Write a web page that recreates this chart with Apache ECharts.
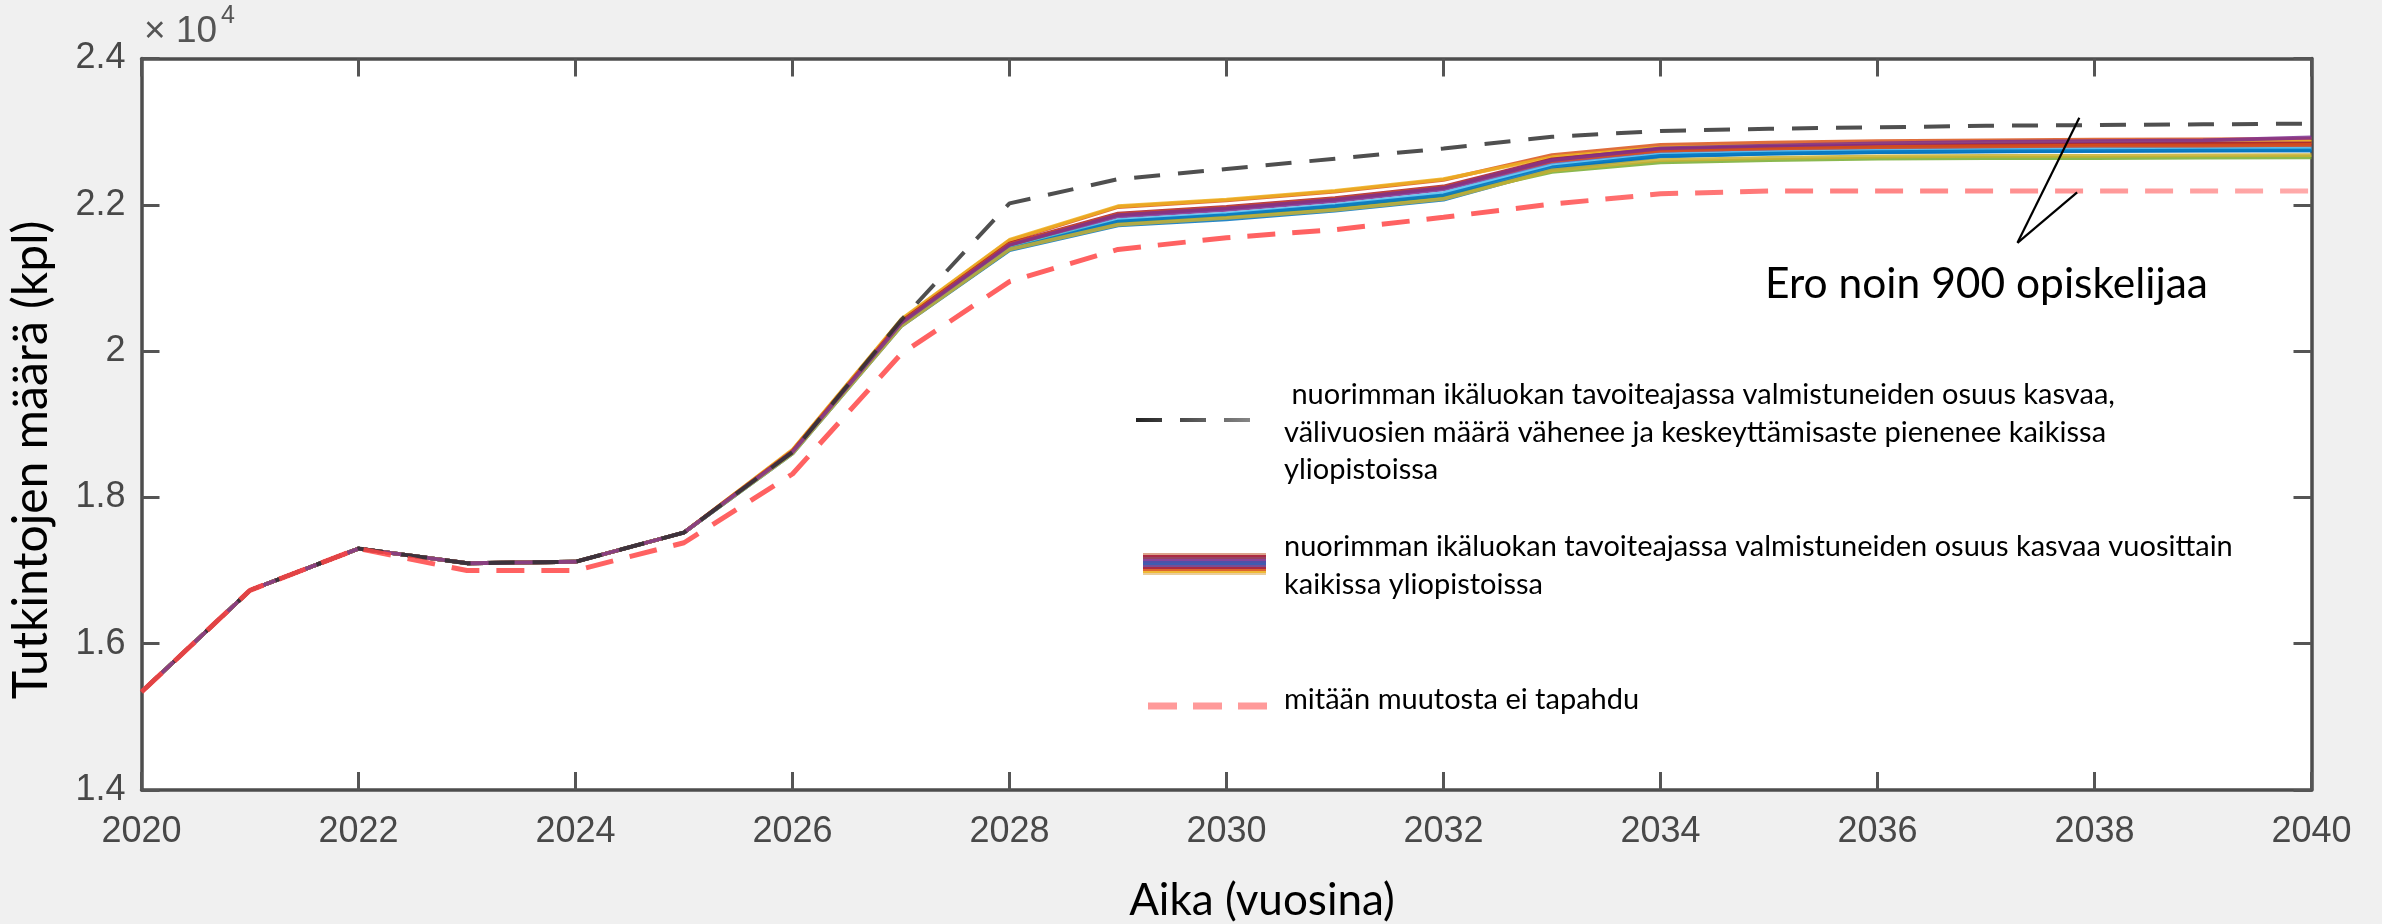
<!DOCTYPE html>
<html>
<head>
<meta charset="utf-8">
<script src="https://cdn.jsdelivr.net/npm/echarts@6/dist/echarts.min.js"></script>
<style>
  html, body { margin: 0; padding: 0; background: #f0f0f0; }
  #chart { width: 2382px; height: 924px; }
</style>
</head>
<body>
<div id="chart"></div>
<script>
// Years on the horizontal axis
const years = [2020, 2021, 2022, 2023, 2024, 2025, 2026, 2027, 2028, 2029, 2030,
               2031, 2032, 2033, 2034, 2035, 2036, 2037, 2038, 2039, 2040];

// Observed degrees 2020–2025, shared by every university-level projection
const sharedHistory = [15340, 16730, 17300, 17100, 17120, 17520];

// Projections 2026–2040: share of the youngest age group graduating on time grows yearly
const bandProjections = [
  [18600, 20340, 21380, 21720, 21800, 21920, 22070, 22480, 22660, 22700, 22720, 22730, 22740, 22745, 22750],
  [18640, 20420, 21510, 21970, 22060, 22180, 22340, 22680, 22820, 22850, 22870, 22880, 22890, 22895, 22900],
  [18650, 20430, 21520, 21980, 22070, 22190, 22350, 22650, 22780, 22810, 22830, 22840, 22850, 22850, 22860],
  [18620, 20370, 21430, 21840, 21930, 22050, 22210, 22580, 22730, 22760, 22780, 22790, 22800, 22805, 22810],
  [18610, 20360, 21420, 21770, 21850, 21970, 22120, 22450, 22580, 22610, 22630, 22640, 22640, 22645, 22650],
  [18600, 20350, 21400, 21790, 21880, 22000, 22160, 22540, 22690, 22720, 22740, 22750, 22760, 22760, 22770],
  [18630, 20400, 21470, 21880, 21970, 22090, 22250, 22620, 22760, 22790, 22810, 22820, 22830, 22835, 22840],
  [18610, 20350, 21390, 21770, 21860, 21980, 22130, 22510, 22670, 22700, 22720, 22730, 22735, 22740, 22740],
  [18630, 20390, 21460, 21870, 21960, 22080, 22240, 22600, 22740, 22770, 22790, 22800, 22810, 22810, 22820],
  [18600, 20340, 21390, 21730, 21820, 21930, 22080, 22470, 22610, 22640, 22660, 22670, 22670, 22675, 22680],
  [18620, 20380, 21450, 21860, 21950, 22070, 22230, 22610, 22770, 22810, 22840, 22860, 22870, 22880, 22920]
];
const bandColors = ['#0072BD', '#D95319', '#EDB120', '#7E2F8E', '#77AC30', '#4DBEEE',
                    '#A2142F', '#0072BD', '#D95319', '#C9B030', '#7E2F8E'];

// Scenario: on-time share grows, fewer gap years and lower drop-out rate
const targetScenario = [15340, 16730, 17300, 17100, 17120, 17520, 18620, 20420, 22020, 22350, 22490,
                        22630, 22770, 22930, 23010, 23040, 23060, 23080, 23090, 23100, 23110];

// Scenario: nothing changes
const baselineScenario = [15340, 16730, 17300, 17000, 17000, 17380, 18320, 19960, 20950, 21390, 21550,
                          21660, 21830, 22010, 22150, 22190, 22190, 22190, 22190, 22190, 22190];

// Pointer lines for the gap annotation (year, degrees)
const eroApex = [2037.29, 21480];
const eroUpper = [2037.86, 23190];
const eroLower = [2037.84, 22170];

const xRange = [2020, 2040, 2];
const yRange = [14000, 24000, 2000];

const nameTarget = ' nuorimman ikäluokan tavoiteajassa valmistuneiden osuus kasvaa,\nvälivuosien määrä vähenee ja keskeyttämisaste pienenee kaikissa\nyliopistoissa';
const nameBand = 'nuorimman ikäluokan tavoiteajassa valmistuneiden osuus kasvaa vuosittain\nkaikissa yliopistoissa';
const nameBaseline = 'mitään muutosta ei tapahdu';

const pairs = vals => years.map((y, i) => [y, vals[i]]);

const series = [];
bandProjections.forEach((proj, k) => {
  series.push({
    name: nameBand,
    type: 'line',
    data: pairs(sharedHistory.concat(proj)),
    symbol: 'none',
    lineStyle: { color: bandColors[k], width: 3.8, opacity: 0.85 },
    itemStyle: { color: bandColors[k] },
    silent: true
  });
});
series.push({
  name: nameTarget,
  type: 'line',
  data: pairs(targetScenario),
  symbol: 'none',
  lineStyle: { color: '#303030', width: 4, type: [26, 18], opacity: 0.85 },
  silent: true
});
series.push({
  name: nameBaseline,
  type: 'line',
  data: pairs(baselineScenario),
  symbol: 'none',
  lineStyle: {
    color: new echarts.graphic.LinearGradient(0, 0, 1, 0, [
      { offset: 0, color: '#ff4646' }, { offset: 0.62, color: '#ff4646' }, { offset: 1, color: '#ff9c9c' }]),
    width: 5, type: [28, 17], opacity: 0.85
  },
  silent: true,
  markLine: {
    silent: true,
    symbol: ['none', 'none'],
    label: { show: false },
    lineStyle: { color: '#000', width: 2.2, type: 'solid', opacity: 1 },
    data: [
      [{ coord: eroApex }, { coord: eroUpper }],
      [{ coord: eroApex }, { coord: eroLower }]
    ]
  }
});

const axisLineStyle = { color: '#4d4d4d', width: 3.5 };
const tickStyle = { inside: true, length: 18, lineStyle: { color: '#555', width: 3 } };
const tickFont = { fontFamily: 'Liberation Sans', fontSize: 36, color: '#484848' };

// Legend swatch for the multi-line band, top to bottom
const swatchColors = ['#d89a80', '#a2142f', '#8a3050', '#7e2f8e', '#3b3fa0', '#2a4aa8',
                      '#6a3a8a', '#a2142f', '#d95319', '#edb120', '#e8c890'];
const swatch = swatchColors.map((c, i) => ({
  type: 'rect',
  shape: { x: 1143, y: 553 + i * 2, width: 123, height: 2 },
  style: { fill: c, opacity: 0.9 },
  silent: true
}));

const legendFont = { fontFamily: 'Lato', fontSize: 29, fill: '#000', lineHeight: 37.5 };

const chart = echarts.init(document.getElementById('chart'), null, { renderer: 'canvas' });
chart.setOption({
  animation: false,
  backgroundColor: '#f0f0f0',
  grid: {
    left: 141.5, right: 70.5, top: 58.5, bottom: 134,
    show: true, backgroundColor: '#ffffff', borderWidth: 0
  },
  xAxis: [
    {
      type: 'value', min: xRange[0], max: xRange[1], interval: xRange[2],
      position: 'bottom',
      axisLine: { show: true, lineStyle: axisLineStyle },
      axisTick: tickStyle,
      splitLine: { show: false },
      axisLabel: Object.assign({ margin: 24, formatter: v => String(v) }, tickFont)
    },
    {
      type: 'value', min: xRange[0], max: xRange[1], interval: xRange[2],
      position: 'top',
      axisLine: { show: true, lineStyle: axisLineStyle },
      axisTick: tickStyle,
      splitLine: { show: false },
      axisLabel: { show: false }
    }
  ],
  yAxis: [
    {
      type: 'value', min: yRange[0], max: yRange[1], interval: yRange[2],
      position: 'left',
      axisLine: { show: true, lineStyle: axisLineStyle },
      axisTick: tickStyle,
      splitLine: { show: false },
      axisLabel: Object.assign({ margin: 16, padding: [8, 0, 0, 0],
                                 formatter: v => String(+(v / 10000).toFixed(1)) }, tickFont)
    },
    {
      type: 'value', min: yRange[0], max: yRange[1], interval: yRange[2],
      position: 'right',
      axisLine: { show: true, lineStyle: axisLineStyle },
      axisTick: tickStyle,
      splitLine: { show: false },
      axisLabel: { show: false }
    }
  ],
  series: series,
  graphic: [
    // exponent marker of the vertical axis
    { type: 'text', left: 144, top: 13, silent: true,
      style: { text: '× 10', fontFamily: 'Liberation Sans', fontSize: 37, fill: '#555' } },
    { type: 'text', left: 221, top: 4, silent: true,
      style: { text: '4', fontFamily: 'Liberation Sans', fontSize: 25, fill: '#555' } },
    // axis titles
    { type: 'text', x: 32, y: 460, rotation: Math.PI / 2, silent: true,
      style: { text: 'Tutkintojen määrä (kpl)', fontFamily: 'Lato', fontSize: 48, fill: '#000',
               align: 'center', verticalAlign: 'middle' } },
    { type: 'text', x: 1262, y: 901, silent: true,
      style: { text: 'Aika (vuosina)', fontFamily: 'Lato', fontSize: 44, fill: '#000',
               align: 'center', verticalAlign: 'middle' } },
    // gap annotation
    { type: 'text', x: 1765, y: 284, silent: true,
      style: { text: 'Ero noin 900 opiskelijaa', fontFamily: 'Lato', fontSize: 42.5, fill: '#000',
               align: 'left', verticalAlign: 'middle' } },
    // legend
    { type: 'line', silent: true,
      shape: { x1: 1136, y1: 420, x2: 1253, y2: 420 },
      style: { stroke: new echarts.graphic.LinearGradient(0, 0, 1, 0, [
                 { offset: 0, color: '#222' }, { offset: 1, color: '#8a8a8a' }]),
               lineWidth: 4, lineDash: [26, 18] } },
    { type: 'text', x: 1284, y: 376, silent: true,
      style: Object.assign({ text: nameTarget, align: 'left', verticalAlign: 'top' }, legendFont) },
    { type: 'group', silent: true, children: swatch },
    { type: 'text', x: 1284, y: 528, silent: true,
      style: Object.assign({ text: nameBand, align: 'left', verticalAlign: 'top' }, legendFont) },
    { type: 'line', silent: true,
      shape: { x1: 1148, y1: 706, x2: 1267, y2: 706 },
      style: { stroke: '#ff9a9a', lineWidth: 7, lineDash: [29, 16] } },
    { type: 'text', x: 1284, y: 681, silent: true,
      style: Object.assign({ text: nameBaseline, align: 'left', verticalAlign: 'top' }, legendFont) }
  ]
});
</script>
</body>
</html>
